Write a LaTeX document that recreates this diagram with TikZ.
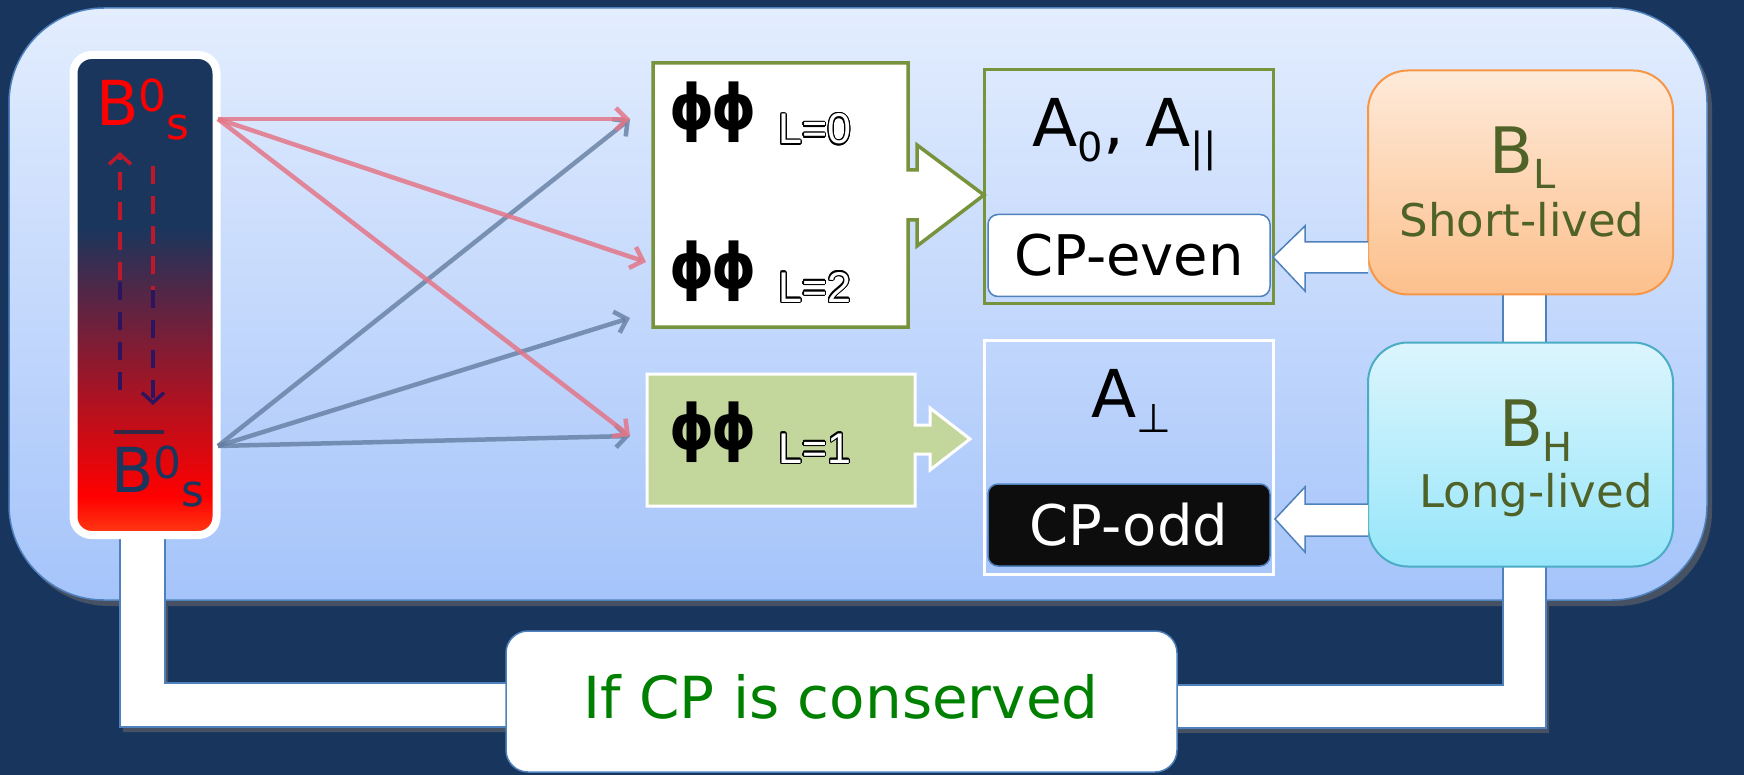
\documentclass[tikz,border=0pt]{standalone}
\usepackage{fontspec}
\setmainfont{DejaVu Sans}
\newfontfamily\arialfont{Liberation Sans}
\usepackage{contour}
\contourlength{1.2pt}
\usetikzlibrary{arrows.meta}

\definecolor{navybg}{RGB}{24,54,93}
\definecolor{paneltop}{RGB}{227,237,254}
\definecolor{panelbot}{RGB}{165,196,250}
\definecolor{panelshadow}{RGB}{70,82,100}
\definecolor{bsred}{RGB}{255,0,0}
\definecolor{bsorange}{RGB}{255,60,20}
\definecolor{bsmid}{RGB}{85,38,70}
\definecolor{bsnavy}{RGB}{26,54,93}
\definecolor{barline}{RGB}{50,40,70}
\definecolor{dashred}{RGB}{190,24,42}
\definecolor{dashpurple}{RGB}{45,20,95}
\definecolor{pinkarrow}{RGB}{228,118,136}
\definecolor{greyarrow}{RGB}{100,125,160}
\definecolor{olive}{RGB}{119,147,60}
\definecolor{lightolive}{RGB}{195,214,155}
\definecolor{edgeblue}{RGB}{79,129,189}
\definecolor{orangetop}{RGB}{254,234,218}
\definecolor{orangebot}{RGB}{252,192,140}
\definecolor{orangeedge}{RGB}{247,150,70}
\definecolor{cyantop}{RGB}{220,245,253}
\definecolor{cyanbot}{RGB}{150,230,250}
\definecolor{cyanedge}{RGB}{75,172,198}
\definecolor{labelgreen}{RGB}{79,98,40}
\definecolor{cpgreen}{RGB}{0,128,0}
\definecolor{oddblack}{RGB}{13,13,13}

\pgfdeclareverticalshading{bsshade}{100bp}{color(0bp)=(bsorange); color(25bp)=(bsorange); color(29bp)=(bsred); color(50bp)=(bsmid); color(57bp)=(bsnavy); color(100bp)=(bsnavy)}

\newcommand\bmeson{B\raisebox{14pt}{\fontsize{44}{44}\selectfont 0}\raisebox{-14pt}{\fontsize{44}{44}\selectfont s}}
\newcommand\dropsub[1]{\raisebox{-15pt}{\fontsize{40}{40}\selectfont #1}}
\newcommand\phipair{\scalebox{1}[1.1]{\bfseries\fontsize{57}{57}\selectfont ϕ\kern-3ptϕ}}
\newcommand\lsize{\arialfont\fontsize{43}{43}\selectfont}

\begin{document}
\begin{tikzpicture}[x=1pt,y=-1pt,
    txt/.style={inner sep=0pt, anchor=base},
    pinkray/.style={draw=pinkarrow, line width=4.5pt, opacity=.85, -{Straight Barb[length=11pt,width=22pt]}},
    greyray/.style={draw=greyarrow, line width=4.5pt, opacity=.8, -{Straight Barb[length=11pt,width=22pt]}},
    dashlink/.style={line width=3.5pt, dash pattern=on 18pt off 12pt},
    linkbar/.style={fill=white, draw=edgeblue, line width=1.5pt},
    blockarrow/.style={fill=white, draw=edgeblue, line width=1.5pt},
    ampbox/.style={minimum width=289pt, minimum height=234pt, inner sep=0pt, line width=3pt},
    cpbox/.style={rounded corners=10pt, draw=edgeblue, line width=1.5pt, minimum width=282pt, minimum height=82pt, inner sep=0pt, font=\fontsize{56}{56}\selectfont},
    statebox/.style={rounded corners=40pt, line width=2pt, minimum width=305pt, minimum height=224pt, inner sep=0pt}]

% background and panel
\fill[navybg] (0,0) rectangle (1744,775);
\useasboundingbox (0,0) rectangle (1744,775);
\fill[panelshadow, rounded corners=95pt] (14,14) rectangle (1712,606);
\shade[top color=paneltop, bottom color=panelbot, draw=edgeblue, line width=1.5pt, rounded corners=95pt] (9,8) rectangle (1707,600);

% white links to the bottom box
\fill[panelshadow, shift={(3,5)}] (120,600) -- (120,727) -- (510,727) -- (510,683) -- (165,683) -- (165,600) -- cycle;
\fill[panelshadow, shift={(3,5)}] (1503,600) -- (1503,685) -- (1170,685) -- (1170,728) -- (1546,728) -- (1546,600) -- cycle;
\draw[linkbar] (120,530) -- (120,727) -- (510,727) -- (510,683) -- (165,683) -- (165,530) -- cycle;
\draw[linkbar] (1503,290) -- (1503,685) -- (1170,685) -- (1170,728) -- (1546,728) -- (1546,290) -- cycle;

% mixing box
\node[draw=white, line width=8pt, rounded corners=18pt, shade, shading=bsshade, minimum width=143pt, minimum height=480pt, inner sep=0pt] (mixbox) at (145,295) {};
\node[txt, anchor=base west, text=red, font=\fontsize{62}{62}\selectfont] (bs) at (96,126) {\bmeson};
\node[txt, anchor=base west, text=bsnavy, font=\fontsize{62}{62}\selectfont] (bsbar) at (111,492) {\bmeson};
\draw[line width=4pt, barline] (114,432) -- (164,432);

\coordinate (upfoot) at (120,390);
\coordinate (upmid) at (120,280);
\coordinate (uptop) at (120,152);
\coordinate (downtop) at (153,166);
\coordinate (downmid) at (153,290);
\coordinate (downfoot) at (153,405);
\draw[dashlink, dashpurple] (upfoot) -- (upmid);
\draw[dashlink, dashred, -{Straight Barb[length=10pt,width=22pt]}] (upmid) -- (uptop);
\draw[dashlink, dashred] (downtop) -- (downmid);
\draw[dashlink, dashpurple, -{Straight Barb[length=10pt,width=22pt]}] (downmid) -- (downfoot);

% decays
\coordinate (bsout) at (218,119);
\coordinate (bbout) at (218,446);
\coordinate (toLzero) at (630,119);
\coordinate (toLtwo) at (646,262);
\coordinate (toLtwolow) at (630,318);
\coordinate (toLone) at (630,436);
\draw[greyray] (bbout) -- (toLzero);
\draw[greyray] (bbout) -- (toLtwolow);
\draw[greyray] (bbout) -- (toLone);
\draw[pinkray] (bsout) -- (toLzero);
\draw[pinkray] (bsout) -- (toLtwo);
\draw[pinkray] (bsout) -- (toLone);

% phi phi states
\draw[fill=white, draw=olive, line width=3.5pt] (653,63) -- (908,63) -- (908,170) -- (917,170) -- (917,145) -- (984,195) -- (917,246) -- (917,220) -- (908,220) -- (908,327) -- (653,327) -- cycle;
\draw[fill=lightolive, draw=white, line width=3pt] (647,374) -- (915,374) -- (915,425) -- (930,425) -- (930,408) -- (970,439) -- (930,470) -- (930,454) -- (915,454) -- (915,506) -- (647,506) -- cycle;
\node[txt, anchor=base west] (phizero) at (669,130) {\phipair};
\node[txt, anchor=base west] (phitwo) at (669,289) {\phipair};
\node[txt, anchor=base west] (phione) at (669,449) {\phipair};
\node[txt, anchor=base west, font=\lsize, text=white] (lzero) at (778,144) {\contour{black}{L=0}};
\node[txt, anchor=base west, font=\lsize, text=white] (ltwo) at (778,302) {\contour{black}{L=2}};
\node[txt, anchor=base west, font=\lsize, text=white] (lone) at (778,463) {\contour{black}{L=1}};

% amplitudes
\node[ampbox, draw=olive] (evenamp) at (1128.5,187) {};
\node[ampbox, draw=white] (oddamp) at (1128.5,457) {};
\node[txt, font=\fontsize{66}{66}\selectfont] (aeven) at (1125,147) {A\dropsub{0}, A\dropsub{||}};
\node[txt, font=\fontsize{66}{66}\selectfont] (aodd) at (1131,417) {A\dropsub{⊥}};
\node[cpbox, fill=white] (cpeven) at (1129,255.5) {CP-even};
\node[cpbox, fill=oddblack, text=white] (cpodd) at (1129,525) {CP-odd};

% mass eigenstates
\node[statebox, draw=orangeedge, top color=orangetop, bottom color=orangebot] (blight) at (1520.5,182.5) {};
\node[statebox, draw=cyanedge, top color=cyantop, bottom color=cyanbot] (bheavy) at (1520.5,454.5) {};
\node[txt, text=labelgreen, font=\fontsize{64}{64}\selectfont] (bltxt) at (1523,174) {B\dropsub{L}};
\node[txt, text=labelgreen, font=\fontsize{45}{45}\selectfont] (shorttxt) at (1522,237) {Short-lived};
\node[txt, text=labelgreen, font=\fontsize{64}{64}\selectfont] (bhtxt) at (1536,446) {B\dropsub{H}};
\node[txt, text=labelgreen, font=\fontsize{45}{45}\selectfont] (longtxt) at (1536,507) {Long-lived};
\draw[blockarrow] (1368,242) -- (1305,242) -- (1305,226) -- (1273,257) -- (1305,291) -- (1305,273) -- (1368,273);
\draw[blockarrow] (1368,504) -- (1305,504) -- (1305,487) -- (1275,519) -- (1305,552) -- (1305,536) -- (1368,536);

% condition
\node[rounded corners=22pt, fill=white, draw=edgeblue, line width=1.5pt, minimum width=671pt, minimum height=141pt, inner sep=0pt] (consbox) at (841.5,701.5) {};
\node[txt, text=cpgreen, font=\fontsize{58}{58}\selectfont] (constxt) at (841,718) {If CP is conserved};
\end{tikzpicture}
\end{document}
